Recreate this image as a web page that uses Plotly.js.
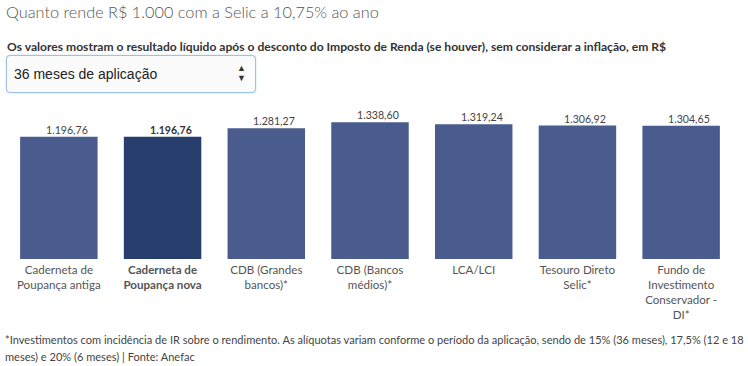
<!DOCTYPE html>
<html>
<head>
<meta charset="utf-8">
<script src="https://cdn.plot.ly/plotly-3.0.1.min.js"></script>
<style>
  html, body { margin: 0; padding: 0; background: #fff; }
  #wrap { position: relative; width: 748px; height: 366px; overflow: hidden; }
  #chart { position: absolute; left: 0; top: 0; width: 748px; height: 366px; }
  .ov { position: absolute; z-index: 5; white-space: nowrap; font-family: Lato, "Open Sans", sans-serif; }
  #title { left: 6px; top: 2px; font-size: 16.3px; font-weight: 300; color: #555; }
  #sub { left: 7px; top: 39px; font-size: 12.1px; font-weight: 700; color: #333; }
  #sel { left: 6px; top: 55px; width: 250px; height: 38px; border: 1px solid #9cc0ec; border-radius: 4px;
         box-shadow: 0 0 2px #b8d3f3; background: #fbfbfb; box-sizing: border-box;
         font-family: "Liberation Sans", Arial, sans-serif; font-size: 14px; color: #222; }
  #sel .t { position: absolute; left: 7px; top: 10px; }
  #sel .a { position: absolute; left: 230px; top: 7px; font-size: 9px; line-height: 10px; color: #333; }
  #foot { left: 5px; top: 331px; font-size: 11.05px; line-height: 17px; color: #444; }
</style>
</head>
<body>
<div id="wrap">
  <div id="chart"></div>
  <div id="title" class="ov">Quanto rende R$ 1.000 com a Selic a 10,75% ao ano</div>
  <div id="sub" class="ov">Os valores mostram o resultado líquido após o desconto do Imposto de Renda (se houver), sem considerar a inflação, em R$</div>
  <div id="sel" class="ov"><span class="t">36 meses de aplicação</span><span class="a">▲<br>▼</span></div>
  <div id="foot" class="ov">*Investimentos com incidência de IR sobre o rendimento. As alíquotas variam conforme o período da aplicação, sendo de 15% (36 meses), 17,5% (12 e 18<br>meses) e 20% (6 meses) | Fonte: Anefac</div>
</div>
<script>
// Data
const categories = [
  "Caderneta de<br>Poupança antiga",
  "<b>Caderneta de<br>Poupança nova</b>",
  "CDB (Grandes<br>bancos)*",
  "CDB (Bancos<br>médios)*",
  "LCA/LCI",
  "Tesouro Direto<br>Selic*",
  "Fundo de<br>Investimento<br>Conservador -<br>DI*"
];
const values = [1196.76, 1196.76, 1281.27, 1338.60, 1319.24, 1306.92, 1304.65];
const highlightIndex = 1;

function fmtBR(v) {
  const parts = v.toFixed(2).split(".");
  const intPart = parts[0].replace(/\B(?=(\d{3})+(?!\d))/g, ".");
  return intPart + "," + parts[1];
}

const colors = values.map((v, i) => i === highlightIndex ? "#273d6b" : "#4a5c8e");

const trace = {
  type: "bar",
  x: categories,
  y: values,
  marker: { color: colors },
  hoverinfo: "none"
};

const annotations = values.map((v, i) => ({
  x: categories[i],
  y: v,
  xref: "x",
  yref: "y",
  text: i === highlightIndex ? "<b>" + fmtBR(v) + "</b>" : fmtBR(v),
  showarrow: false,
  yanchor: "bottom",
  xanchor: "center",
  xshift: 8,
  yshift: -1,
  font: { family: "Lato, 'Open Sans', sans-serif", size: 10.6, color: i === highlightIndex ? "#333" : "#444" }
}));

const layout = {
  width: 748,
  height: 366,
  margin: { l: 7, r: 15, t: 116, b: 107, pad: 0 },
  paper_bgcolor: "#fff",
  plot_bgcolor: "#fff",
  bargap: 0.253,
  showlegend: false,
  font: { family: "Lato, 'Open Sans', sans-serif", size: 12, color: "#555" },
  xaxis: {
    type: "category",
    showline: false,
    showgrid: false,
    zeroline: false,
    ticks: "",
    tickangle: 0,
    tickfont: { family: "Lato, 'Open Sans', sans-serif", size: 11.6, color: "#555" },
    ticklabelstandoff: 2,
    automargin: false
  },
  yaxis: {
    range: [0, 1400],
    visible: false,
    showgrid: false,
    zeroline: false,
    fixedrange: true
  },
  annotations: annotations
};

Plotly.newPlot("chart", [trace], layout, { displayModeBar: false, staticPlot: true });
</script>
</body>
</html>
